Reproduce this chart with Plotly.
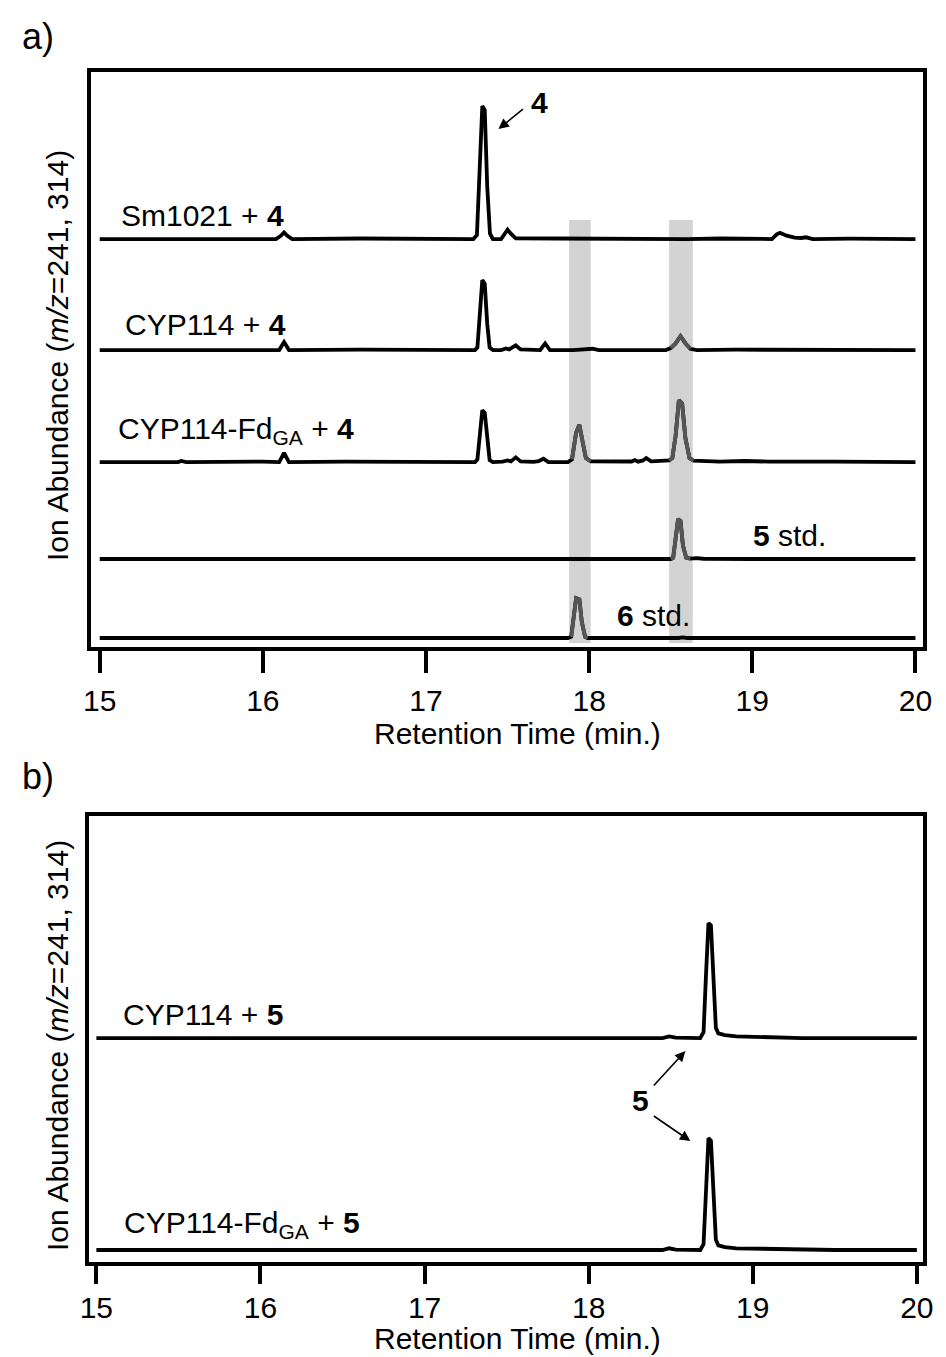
import plotly.graph_objects as go

W, H = 946, 1357
FONT = "Liberation Sans, Arial, Helvetica, sans-serif"

# ---------------- DATA ----------------
# Panel a: (retention time [min], relative ion abundance; Sm1021 main peak = 100)
SM1021_4 = [(15.0, 0), (15.5, 0), (15.52, 0.6), (15.55, 0), (16.08, 0), (16.11, 2.5), (16.13, 5),
            (16.15, 2.5), (16.18, 0), (16.6, 0.4), (16.9, 0), (17.29, 0), (17.312, 3), (17.33, 50),
            (17.345, 100), (17.36, 97), (17.375, 40), (17.392, 4), (17.41, 0), (17.46, 0), (17.48, 4),
            (17.50, 7), (17.52, 4), (17.55, 0.5), (17.8, 0.4), (18.2, 0), (18.6, 0), (18.8, 0.4),
            (19.0, 0), (19.12, 0), (19.15, 3.5), (19.17, 4.7), (19.21, 2.5), (19.26, 1), (19.3, 0.8),
            (19.33, 1.3), (19.37, 0), (19.6, 0.3), (20.0, 0)]

CYP114_4 = [(15.0, 0), (15.5, 0.3), (16.0, 0), (16.10, 0), (16.13, 6), (16.16, 0), (16.6, 0.4),
            (17.0, 0), (17.30, 0), (17.315, 2), (17.33, 28), (17.345, 52.6), (17.36, 50), (17.375, 20),
            (17.39, 2), (17.41, 0), (17.46, 0), (17.49, 1.2), (17.51, 0.5), (17.55, 3.5), (17.58, 0.5),
            (17.70, 0), (17.73, 5), (17.76, 0), (17.9, 0), (18.02, 1), (18.06, 0), (18.3, 0.3),
            (18.47, 0), (18.50, 1.5), (18.53, 5), (18.56, 10.5), (18.59, 5), (18.62, 1), (18.66, 0),
            (18.9, 0.3), (19.3, 0), (19.7, 0.3), (20.0, 0)]

CYP114FD_4 = [(15.0, 0), (15.48, 0), (15.5, 0.8), (15.53, 0), (16.0, 0.3), (16.10, 0), (16.13, 6.8),
              (16.16, 0), (16.5, 0.3), (17.0, 0), (17.30, 0), (17.315, 2), (17.33, 20), (17.345, 39),
              (17.36, 37), (17.375, 15), (17.39, 1.5), (17.41, 0), (17.47, 0.3), (17.50, 1.2),
              (17.52, 0.5), (17.55, 3.5), (17.58, 0.5), (17.66, 0.2), (17.69, 0.6), (17.72, 2.5),
              (17.75, 0), (17.87, 0), (17.895, 2), (17.92, 22), (17.94, 28), (17.96, 15), (17.98, 3),
              (18.01, 0.5), (18.1, 0.3), (18.2, 0), (18.26, 0.4), (18.28, 1.5), (18.30, 0.3),
              (18.33, 1.2), (18.35, 3), (18.38, 0.5), (18.46, 0.5), (18.49, 1.2), (18.51, 3),
              (18.53, 20), (18.55, 46.6), (18.57, 44), (18.59, 18), (18.615, 3), (18.64, 1),
              (18.7, 0.5), (18.8, 0.3), (18.95, 0.8), (19.1, 0.3), (19.5, 0.3), (20.0, 0)]

STD_5 = [(15.0, 0), (16.0, 0), (17.0, 0), (18.0, 0), (18.3, 0), (18.34, 0.3), (18.4, 0), (18.50, 0),
         (18.515, 1), (18.53, 15), (18.545, 30), (18.56, 28.5), (18.575, 10), (18.595, 1),
         (18.62, 0.3), (18.66, 0.6), (18.70, 0.2), (19.0, 0), (20.0, 0)]

STD_6 = [(15.0, 0), (15.9, 0), (15.92, 0.3), (15.95, 0), (17.0, 0), (17.87, 0), (17.89, 1),
         (17.905, 15), (17.92, 30), (17.94, 29), (17.955, 12), (17.975, 1), (17.99, 0), (18.55, 0),
         (18.57, 0.4), (18.6, 0), (20.0, 0)]

# Panel b: (retention time [min], relative ion abundance; CYP114 + 5 peak = 100)
CYP114_5 = [(15.0, 0), (15.8, 0), (16.3, 0.8), (16.33, 0), (17.5, 0), (18.45, 0), (18.49, 1.5),
            (18.53, 0.3), (18.68, 0), (18.70, 5), (18.715, 55), (18.73, 100), (18.745, 98),
            (18.76, 45), (18.775, 9), (18.79, 4), (18.83, 2.5), (18.9, 1.5), (19.0, 1), (19.1, 0.4),
            (19.3, 0), (20.0, 0)]

CYP114FD_5 = [(15.0, 0), (16.3, 0.5), (16.33, 0), (18.45, 0), (18.49, 1.5), (18.53, 0.3), (18.68, 0),
              (18.70, 5), (18.715, 54), (18.73, 97.4), (18.745, 95), (18.76, 44), (18.775, 9),
              (18.79, 4), (18.83, 2.5), (18.9, 1.5), (19.0, 1.2), (19.1, 0.6), (19.2, 0.8),
              (19.25, 0.2), (19.5, 0), (20.0, 0)]

# highlighted retention windows (min) for products 6 and 5
BANDS = [(17.877, 18.009), (18.49, 18.635)]
X_TICKS = [15, 16, 17, 18, 19, 20]

# ---------------- LAYOUT HELPERS ----------------
def px(x):
    return x / W


def py(y):
    return 1 - y / H


BLACK = "#000000"
GRAY = "#555555"
LW = 3.8

fig = go.Figure()

# panel a traces: (data, vertical offset, highlighted band indices)
panel_a = [
    (SM1021_4, 306.4, []),
    (CYP114_4, 222.9, [1]),
    (CYP114FD_4, 138.7, [0, 1]),
    (STD_5, 65.8, [1]),
    (STD_6, 6.4, [0]),
]
panel_b = [
    (CYP114_5, 194.3),
    (CYP114FD_5, 10.0),
]


def add_line(t, y, color, xa, ya):
    fig.add_trace(go.Scatter(x=t, y=y, mode="lines", line=dict(color=color, width=LW),
                             xaxis=xa, yaxis=ya, showlegend=False, hoverinfo="skip"))


for data, off, bands in panel_a:
    t = [p[0] for p in data]
    y = [p[1] + off for p in data]
    add_line(t, y, BLACK, "x", "y")
    for bi in bands:
        lo, hi = BANDS[bi]
        seg = [(a, b) for a, b in zip(t, y) if lo - 0.005 <= a <= hi + 0.005]
        add_line([s[0] for s in seg], [s[1] for s in seg], GRAY, "x", "y")

for data, off in panel_b:
    add_line([p[0] for p in data], [p[1] + off for p in data], BLACK, "x2", "y2")

# gray bands
for lo, hi in BANDS:
    fig.add_shape(type="rect", xref="x", yref="paper", x0=lo, x1=hi, y0=py(643), y1=py(220),
                  fillcolor="#d3d3d3", line=dict(width=0), layer="below")

axis_common = dict(showline=True, linewidth=4, linecolor=BLACK, mirror=True, showgrid=False,
                   zeroline=False)
xcommon = dict(axis_common, ticks="outside", tickwidth=4, tickcolor=BLACK,
               tickvals=X_TICKS, ticktext=[str(v) for v in X_TICKS],
               tickfont=dict(family=FONT, size=30, color=BLACK))
ycommon = dict(axis_common, ticks="", showticklabels=False)

fig.update_layout(
    width=W, height=H, autosize=False,
    margin=dict(l=0, r=0, t=0, b=0),
    paper_bgcolor="white", plot_bgcolor="white",
    font=dict(family=FONT, size=30, color=BLACK),
    xaxis=dict(xcommon, ticklen=22, ticklabelstandoff=2,
               domain=[px(82.5), px(932.5)], range=[14.945, 20.045], anchor="y"),
    yaxis=dict(ycommon, domain=[py(646.5), py(72)], range=[0, 432], anchor="x"),
    xaxis2=dict(xcommon, ticklen=18, ticklabelstandoff=-2,
                domain=[px(81.2), px(933)], range=[14.958, 20.039], anchor="y2"),
    yaxis2=dict(ycommon, domain=[py(1261.5), py(816)], range=[0, 387.4], anchor="x2"),
)


def label(text, x, y, size=30, xanchor="left", yanchor="middle"):
    fig.add_annotation(text=text, x=px(x), y=py(y), xref="paper", yref="paper",
                       xanchor=xanchor, yanchor=yanchor, showarrow=False,
                       font=dict(family=FONT, size=size, color=BLACK))


def arrow(hx, hy, tx, ty):
    fig.add_annotation(text="", x=px(hx), y=py(hy), xref="paper", yref="paper",
                       ax=tx - hx, ay=ty - hy, axref="pixel", ayref="pixel",
                       showarrow=True, arrowhead=2, arrowsize=1.3, arrowwidth=1.6,
                       arrowcolor=BLACK)


# panel letters
label("a)", 10, 36, size=36)
label("b)", 10, 776, size=36)

# axis titles
YTITLE = "Ion Abundance (<i>m/z</i>=241, 314)"
for cy in (355, 1045):
    fig.add_annotation(text=YTITLE, x=px(48), y=py(cy), xref="paper", yref="paper",
                       textangle=-90, showarrow=False, xanchor="center", yanchor="middle",
                       font=dict(family=FONT, size=30, color=BLACK))
label("Retention Time (min.)", 518, 733, xanchor="center")
label("Retention Time (min.)", 518, 1357, xanchor="center", yanchor="bottom")

# trace labels
label("Sm1021 + <b>4</b>", 111, 216)
label("CYP114 + <b>4</b>", 115, 324)
label("CYP114-Fd<sub>GA</sub> + <b>4</b>", 108, 430)
label("<b>5</b> std.", 757, 535)
label("<b>6</b> std.", 618, 615)
label("CYP114 + <b>5</b>", 113, 1014)
label("CYP114-Fd<sub>GA</sub> + <b>5</b>", 114, 1224)

# compound markers with arrows
label("<b>4</b>", 541, 102, xanchor="center")
arrow(499, 129, 525, 108)
label("<b>5</b>", 644, 1100, xanchor="center")
arrow(690, 1051, 657, 1087)
arrow(695, 1141, 657, 1115)

fig.write_html("out.html")
